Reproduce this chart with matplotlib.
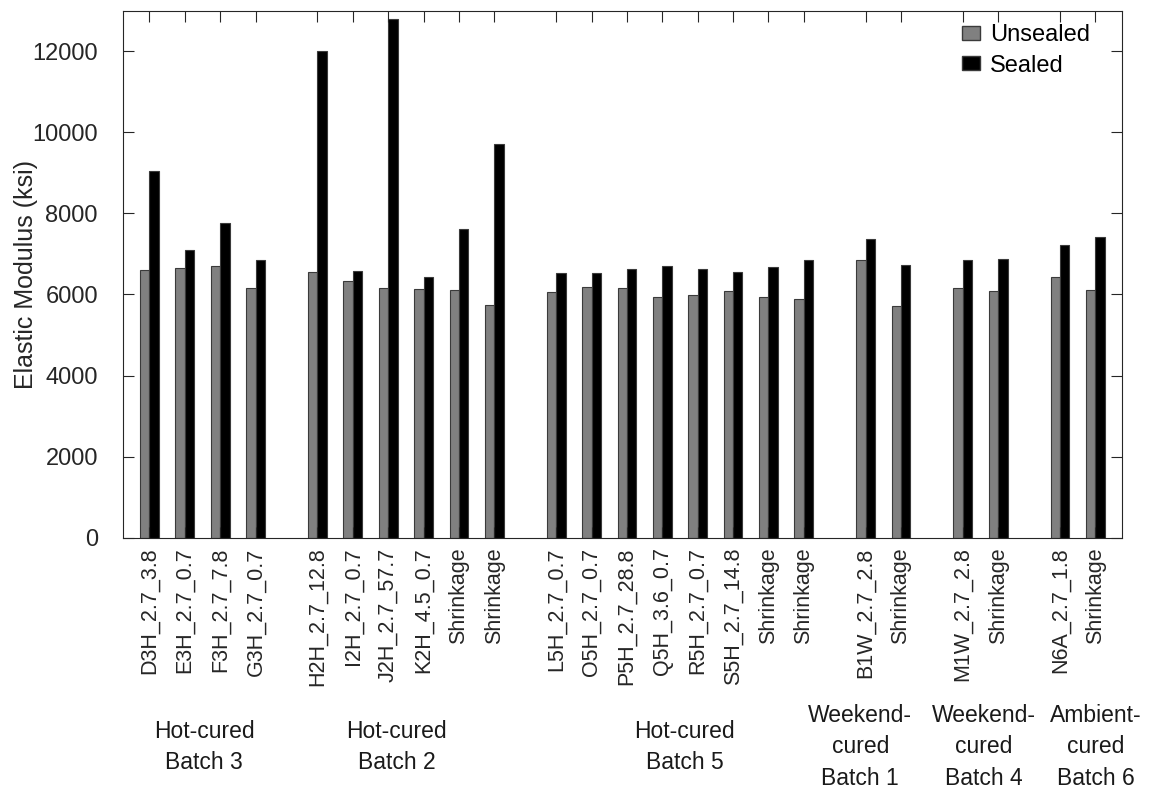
import matplotlib
matplotlib.use("Agg")
import matplotlib.pyplot as plt
import matplotlib.transforms as mtransforms
from matplotlib.patches import Patch

plt.rcParams['font.family'] = ['Liberation Sans', 'DejaVu Sans']

labels = ["D3H_2.7_3.8", "E3H_2.7_0.7", "F3H_2.7_7.8", "G3H_2.7_0.7",
          "H2H_2.7_12.8", "I2H_2.7_0.7", "J2H_2.7_57.7", "K2H_4.5_0.7", "Shrinkage", "Shrinkage",
          "L5H_2.7_0.7", "O5H_2.7_0.7", "P5H_2.7_28.8", "Q5H_3.6_0.7", "R5H_2.7_0.7", "S5H_2.7_14.8",
          "Shrinkage", "Shrinkage",
          "B1W_2.7_2.8", "Shrinkage",
          "M1W_2.7_2.8", "Shrinkage",
          "N6A_2.7_1.8", "Shrinkage"]
group_names = ["Hot-cured\nBatch 3", "Hot-cured\nBatch 2", "Hot-cured\nBatch 5",
               "Weekend-\ncured\nBatch 1", "Weekend-\ncured\nBatch 4", "Ambient-\ncured\nBatch 6"]
group_sizes = [4, 6, 8, 2, 2, 2]
# horizontal nudges of the group captions (layout, in category units)
group_label_shift = [0.05, -0.26, 0.13, -0.65, 0.09, 0.52]

unsealed = [6610, 6650, 6710, 6160,
            6560, 6320, 6170, 6130, 6120, 5730,
            6060, 6180, 6165, 5935, 5985, 6080, 5945, 5885,
            6855, 5720,
            6160, 6075,
            6430, 6115]
sealed = [9035, 7100, 7760, 6840,
          12000, 6580, 12800, 6430, 7620, 9700,
          6520, 6535, 6630, 6710, 6630, 6545, 6675, 6840,
          7365, 6735,
          6840, 6880,
          7220, 7405]

# positions: unit spacing within groups, extra gap between groups
gap = 0.75
xpos = []
group_centers = []
i = 0
for g, n in enumerate(group_sizes):
    pts = [i + k + gap * g for k in range(n)]
    xpos.extend(pts)
    group_centers.append((pts[0] + pts[-1]) / 2)
    i += n

fig = plt.figure(figsize=(11.61, 7.89), dpi=100)
ax = fig.add_axes([0.1059, 0.3185, 0.8605, 0.668])

w = 0.265
edge = '#3a3a3a'
ax.bar([x - w / 2 for x in xpos], unsealed, width=w, color='#808080', edgecolor=edge, linewidth=0.8, label='Unsealed')
ax.bar([x + w / 2 for x in xpos], sealed, width=w, color='#000000', edgecolor=edge, linewidth=0.8, label='Sealed')

ax.set_xlim(xpos[0] - 0.75, xpos[-1] + 0.75)
ax.set_ylim(0, 13000)
ax.set_yticks(range(0, 13000, 2000))
ax.set_xticks(xpos)
ax.set_xticklabels(labels, rotation=90, fontsize=15.5, color='#262626')
ax.tick_params(direction='in', length=8, width=0.8, color='#262626', top=True, right=True)
ax.tick_params(axis='x', pad=7)
ax.tick_params(axis='y', labelsize=17, labelcolor='#262626', pad=18)
for s in ax.spines.values():
    s.set_color('#262626')
    s.set_linewidth(0.8)

ax.set_ylabel("Elastic Modulus (ksi)", fontsize=18, color='#262626')
ax.yaxis.set_label_coords(-0.085, 0.5)

trans = mtransforms.blended_transform_factory(ax.transData, ax.transAxes)
for cx, sh, name in zip(group_centers, group_label_shift, group_names):
    ax.text(cx + sh, -0.397, name, transform=trans, ha='center', va='center',
            fontsize=16.5, color='#1a1a1a', linespacing=1.46)

handles = [Patch(facecolor='#808080', edgecolor=edge, label='Unsealed'),
           Patch(facecolor='#000000', edgecolor=edge, label='Sealed')]
ax.legend(handles=handles, loc='upper left', frameon=False, fontsize=17,
          handlelength=0.75, handleheight=0.5, handletextpad=0.42, labelspacing=0.35,
          borderaxespad=0.0, bbox_to_anchor=(0.8305, 0.992))

fig.savefig("out.png", dpi=100)
